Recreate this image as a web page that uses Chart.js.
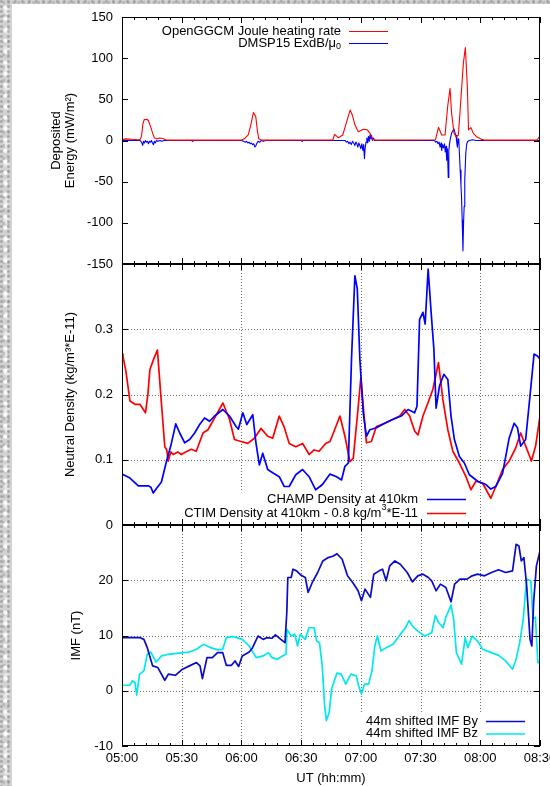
<!DOCTYPE html>
<html>
<head>
<meta charset="utf-8">
<title>Joule heating, neutral density and IMF</title>
<script src="https://cdn.jsdelivr.net/npm/chart.js@4.4.1/dist/chart.umd.min.js"></script>
<style>
  html, body { margin: 0; padding: 0; }
  body {
    width: 550px;
    height: 786px;
    overflow: hidden;
    position: relative;
    background-color: #d2d2d2;
    background-image:
      radial-gradient(circle at 20% 30%, rgba(120,120,120,0.45) 0 1px, rgba(120,120,120,0) 1.8px),
      radial-gradient(circle at 60% 70%, rgba(255,255,255,0.9) 0 1.6px, rgba(255,255,255,0) 2.6px),
      radial-gradient(circle at 80% 20%, rgba(160,160,160,0.5) 0 1.2px, rgba(160,160,160,0) 2.2px),
      radial-gradient(ellipse at 40% 60%, rgba(240,240,240,0.8) 0 2px, rgba(240,240,240,0) 4px);
    background-size: 7px 5px, 9px 11px, 5px 13px, 17px 19px;
  }
  #sheet { position: absolute; left: 12px; top: 4px; right: 0; bottom: 0; background: #fff; }
  canvas { position: absolute; left: 0; }
  #energyChart { top: 0; }
  #densityChart { top: 246px; }
  #imfChart { top: 507px; }
</style>
</head>
<body>
<div id="sheet"></div>
<canvas id="energyChart" width="580" height="281"></canvas>
<canvas id="densityChart" width="580" height="297"></canvas>
<canvas id="imfChart" width="580" height="279"></canvas>

<script>
// Time axis: minutes after 05:00 UT
const timeLabels = ['05:00', '05:30', '06:00', '06:30', '07:00', '07:30', '08:00', '08:30'];
const energyLabels = ['-150', '-100', '-50', '0', '50', '100', '150'];
const densityLabels = ['0', '0.1', '0.2', '0.3', ''];
const imfLabels = ['-10', '0', '10', '20', ''];

// [minute, mW/m^2]
const joule = [
    [0, 1], [2, 2], [5, 1.5], [8, 1], [9, 1], [9.8, 5], [10.5, 20], [11.2, 25.5], [12.5, 25.8], [13.3, 24],
    [14.5, 16], [15.5, 8], [16.3, 3], [17.5, 2], [19, 3], [20.5, 2.5], [22, 1], [24, 0.5],
    [60, 0.5], [61.5, 2], [63.5, 7], [64.8, 20], [66, 34], [67.2, 29], [68, 12], [68.7, 2], [70, 0.5],
    [105.9, 0.6], [106.8, 7.5], [108.7, 3.4], [110.9, 6.7], [112.9, 23], [114.6, 37], [115.7, 31], [117, 19],
    [118.7, 10.7], [121.3, 13.6], [123.2, 13], [124.6, 8.7], [125.9, 1.4], [127.1, 0.5],
    [157.5, 1], [159, 16], [160.6, 6.7], [162.3, 6.7], [163.6, 41], [164.8, 63.4], [165.6, 33], [166.8, 8.7],
    [167.8, 4.6], [169, 6.7], [170.1, 45], [171.5, 94], [172.5, 113], [173.5, 65], [174.1, 12.8], [175.3, 15.6],
    [176.5, 8.7], [178.1, 4.6], [180.6, 1.4], [182, 0.5], [208.5, 0.5], [209.5, 4], [210, 5]
];

const dmsp = [
    [0, 0], [9, 0], [9.5, -1], [10, -3], [10.4, -6], [10.8, -1], [11.3, -3], [11.8, 0], [12.3, -2], [12.8, -1],
    [13.3, -4], [13.8, -1], [14.3, -2], [14.8, 0], [15.3, -3], [15.8, -5], [16.2, -1], [16.7, -3], [17.3, 0],
    [18, -1], [19, 0], [20, -1], [21, 0], [35, 0], [35.5, -1], [36, 0],
    [60, 0], [61, -1], [62, -2], [62.6, -1], [63.2, -3], [63.8, -2], [64.4, -4], [65, -3], [65.6, -5], [66.2, -4],
    [66.8, -8], [67.3, -6], [67.8, -3], [68.4, -1], [69.2, -2], [70, 0], [71, -1], [72, 0], [90, 0], [90.5, -1], [91, 0],
    [112, 0], [112.8, -2], [113.4, -1], [114, -4], [114.6, -2], [115.2, -5], [115.8, -1], [116.4, -3], [117, -6],
    [117.5, -2], [118, -4], [118.5, -8], [119, -3], [119.5, -6], [120, -10], [120.5, -4], [121, -12], [121.4, -5],
    [121.8, -22], [122.2, -8], [122.6, -2], [123, 3], [123.4, -3], [123.8, 5], [124.2, -1], [124.6, 7], [125, 2],
    [125.4, 6], [125.8, 0], [126.3, 3], [126.8, 0], [128, 0],
    [157, 0], [157.6, -2], [158.2, -1], [158.8, -4], [159.3, -2], [159.8, -8], [160.3, -3], [160.6, -12], [161, -5],
    [161.5, -9], [162, -4], [162.4, -14], [162.8, -7], [163.1, -24], [163.5, -10], [163.9, -45], [164.2, -12],
    [164.5, -5], [165, 3], [165.6, 9], [166.2, 12], [166.8, 14], [167.3, 9], [167.8, 6], [168.2, -3], [168.5, -8],
    [168.9, 2], [169.2, 1], [169.6, -20], [169.9, -36], [170.3, -55], [170.6, -70], [170.9, -97], [171.3, -134],
    [171.6, -100], [171.9, -80], [172.2, -48], [172.7, -16], [173.2, -4], [173.7, -1], [174.5, 0], [176, 1],
    [178, 0], [210, 0]
];

// [minute, kg/m^3 * 1e-11]
const champ = [
    [0, 0.078], [4, 0.072], [8.2, 0.06], [13.2, 0.06], [14.5, 0.058], [15.7, 0.049], [17.3, 0.056], [19.8, 0.066],
    [22.3, 0.097], [24.8, 0.125], [27, 0.155], [29, 0.141], [31.5, 0.126], [34, 0.131], [36.5, 0.141], [39, 0.154],
    [41.5, 0.164], [44, 0.159], [46.5, 0.167], [50.7, 0.177], [54, 0.167], [57.3, 0.151], [58.5, 0.147],
    [60.7, 0.172], [62.7, 0.154], [65.7, 0.169], [67.3, 0.126], [69, 0.092], [70.7, 0.11], [73.2, 0.085],
    [75.7, 0.08], [79, 0.074], [81.5, 0.059], [84, 0.059], [87.3, 0.077], [90.7, 0.085], [94, 0.074],
    [97.3, 0.054], [100.7, 0.062], [104.5, 0.078], [107.8, 0.074], [110.3, 0.069], [112, 0.09], [113.7, 0.095],
    [115.3, 0.254], [117, 0.382], [118.2, 0.362], [119.5, 0.254], [121.2, 0.172], [122.8, 0.136], [124.5, 0.146],
    [127.8, 0.149], [132, 0.156], [136.2, 0.162], [140.3, 0.167], [143.7, 0.177], [147, 0.172], [148.2, 0.182],
    [149.5, 0.315], [151.2, 0.326], [152.3, 0.308], [153.8, 0.392], [155.3, 0.326], [156.7, 0.269], [157.8, 0.179],
    [159.5, 0.213], [161.7, 0.231], [163.7, 0.223], [165.3, 0.167], [167, 0.131], [169.5, 0.105], [172, 0.095],
    [174.5, 0.077], [178.7, 0.067], [182.8, 0.062], [185.3, 0.055], [187.8, 0.059], [191.2, 0.079], [194.5, 0.133],
    [197, 0.156], [198.7, 0.149], [200.3, 0.121], [202.8, 0.131], [205.3, 0.208], [207, 0.262], [208.7, 0.259],
    [210, 0.254]
];

const ctim = [
    [0, 0.262], [0.5, 0.258], [2, 0.235], [4, 0.19], [6.5, 0.185], [9, 0.185], [11.8, 0.172], [13, 0.2],
    [14, 0.238], [16, 0.255], [17.8, 0.268], [19.8, 0.187], [21.5, 0.12], [22.5, 0.115], [23.2, 0.098],
    [24.5, 0.112], [25.7, 0.108], [28, 0.112], [29.8, 0.108], [32, 0.112], [34.8, 0.116], [37.3, 0.113],
    [40.7, 0.141], [43.2, 0.146], [46.5, 0.164], [50.7, 0.187], [54, 0.162], [56.5, 0.131], [59.8, 0.128],
    [63.2, 0.125], [66.5, 0.133], [69.8, 0.148], [73.2, 0.136], [75.7, 0.133], [79, 0.167], [81.5, 0.15],
    [84, 0.125], [87.3, 0.12], [90.7, 0.125], [94, 0.108], [96.5, 0.115], [99, 0.113], [102.3, 0.125],
    [104.5, 0.128], [106.2, 0.141], [109.5, 0.167], [112, 0.136], [114.5, 0.097], [116.2, 0.102], [118.7, 0.182],
    [120, 0.226], [121.2, 0.182], [122.8, 0.126], [125.3, 0.128], [127.8, 0.151], [132, 0.156], [136.2, 0.162],
    [139.5, 0.167], [142, 0.177], [144.5, 0.167], [147, 0.144], [148.7, 0.138], [151.2, 0.167], [153.7, 0.187],
    [156.2, 0.208], [159, 0.249], [161.2, 0.192], [163.7, 0.146], [166.2, 0.113], [169.5, 0.095], [172.8, 0.074],
    [175.3, 0.054], [177.8, 0.067], [181.2, 0.064], [185.3, 0.041], [187.8, 0.059], [191.2, 0.085], [194.5, 0.098],
    [197.8, 0.118], [200.3, 0.141], [202.8, 0.121], [205.7, 0.098], [207.8, 0.121], [210, 0.167]
];

// [minute, nT]
const imfBy = [
    [0, 9.6], [9.2, 9.6], [11, 9.3], [12.7, 7.8], [15.4, 4.5], [18, 4.2], [21.5, 1.9], [23.3, 3], [26.8, 2.8],
    [30.4, 3.9], [33.9, 4.5], [37.4, 5.1], [39.2, 4.5], [40.4, 2.2], [42.7, 6], [45.4, 6], [48, 6.9], [50.6, 6.9],
    [52.4, 4.6], [55, 4.6], [56.8, 5.4], [58.6, 4.4], [60.4, 6.3], [63.9, 7], [65.6, 7.8], [68.3, 9.9], [70.9, 9.3],
    [72.7, 9.6], [75.3, 9.5], [77.1, 10.1], [79.8, 9.3], [81.9, 8.7], [82.8, 14.2], [83.3, 20.5], [85, 20.5],
    [85.9, 22], [87.7, 21.7], [90, 20.9], [92.1, 20.5], [93.5, 17.8], [95.6, 19.6], [98.3, 21.4], [100.9, 23.5],
    [103.6, 24.1], [106.2, 24.4], [108, 24.8], [110.6, 23.8], [113.3, 20.8], [115.9, 19.6], [118.6, 18.1],
    [120.3, 16.3], [122.1, 18.4], [124.8, 16.9], [126.5, 21.1], [129.2, 21.7], [130.9, 22], [132.7, 19.9],
    [134.5, 22.6], [137.1, 23.5], [139.8, 22.9], [143.3, 21.4], [145.9, 19.7], [148.6, 20.8], [151.2, 21.1],
    [153.9, 20.5], [155.6, 19.9], [157.8, 18.1], [160, 19.3], [162.7, 18.7], [165.3, 16.1], [167.1, 19.3],
    [169.8, 20.2], [173.3, 20.2], [175.9, 20.8], [178.6, 21.1], [182.1, 20.8], [185.6, 21.4], [189.2, 21.9],
    [192.7, 21.4], [196.2, 21.7], [198, 26.5], [199.4, 26.2], [200.6, 23.5], [201.9, 24.1], [203.3, 19],
    [205, 9.3], [205.9, 8.1], [206.8, 16], [208.2, 22.6], [210, 25.3]
];

const imfBz = [
    [0, 1], [3.9, 1], [5.3, 1.8], [6.5, 1.5], [7.4, -0.8], [8.8, 3], [11, 3.6], [12.7, 6.6], [14.5, 7],
    [17.1, 5.2], [19.8, 6.3], [23.3, 6.6], [28.6, 6.8], [33.9, 7], [37.4, 7.5], [40.9, 8.4], [44.5, 7.8],
    [48, 7.4], [50.6, 7.5], [52.4, 9.6], [55.9, 9.8], [60.4, 9.3], [63.9, 8.1], [67.4, 6], [70.9, 6.3],
    [73.6, 6.9], [75.3, 6], [78, 5.7], [80.6, 6.3], [82.4, 6.6], [82.9, 11.1], [85, 9.9], [86.8, 10.2],
    [88.2, 8.1], [89.5, 10.2], [92.1, 9.3], [93.9, 11.4], [96.5, 11.4], [97.8, 9], [99.2, 8.7], [100.6, 4.5],
    [101.8, -2.7], [102.7, -5.4], [104.1, -3.9], [105.3, 0.3], [108, 3.2], [110.1, 3], [112.4, 1.2], [115, 3],
    [117.7, 2.7], [118.9, 0.9], [120.3, -0.6], [121.8, 1.2], [123.9, 1.2], [125.6, 3.6], [127, 8.1], [128.3, 9.9],
    [130.1, 7.2], [132.7, 7.8], [136.2, 8.4], [139.8, 10.2], [142.4, 11.4], [144.2, 12.7], [145.9, 11.7],
    [148.6, 10.8], [152.1, 9.9], [155.6, 10.5], [157.4, 13.6], [159.2, 12.3], [161.3, 11.4], [162.7, 13.3],
    [165.3, 15.5], [166.6, 13], [168, 6.9], [170.6, 4.8], [172.4, 9.6], [173.8, 7.8], [175.9, 9.9], [178.6, 9],
    [181.2, 7.5], [185.6, 6.9], [189.2, 6.4], [192.7, 5.4], [196.2, 3.9], [198, 5.7], [199.8, 8.7],
    [201.5, 12.7], [203.3, 20.2], [205.4, 19.9], [206.5, 13], [207.7, 13.3], [208.9, 5.1], [210, 5.1]
];

const FONT = '"Liberation Sans", Arial, Helvetica, sans-serif';
Chart.defaults.font.family = FONT;
Chart.defaults.font.size = 13;
Chart.defaults.color = '#000';

function toPoints(series) {
    return series.map(([x, y]) => ({ x, y }));
}

// Draws "a^3" / "b_0" style labels right-aligned, with a one-character super/subscript
function drawRichText(ctx, text, xRight, yMid) {
    const parts = text.split(/([\^_].)/).filter(p => p.length);
    const base = '13px ' + FONT;
    const small = '9px ' + FONT;
    const widths = parts.map(p => {
        ctx.font = /^[\^_]/.test(p) ? small : base;
        return ctx.measureText(/^[\^_]/.test(p) ? p.slice(1) : p).width;
    });
    let x = xRight - widths.reduce((s, w) => s + w, 0);
    ctx.textAlign = 'left';
    ctx.textBaseline = 'middle';
    parts.forEach((p, i) => {
        if (p[0] === '^') {
            ctx.font = small;
            ctx.fillText(p.slice(1), x, yMid - 5);
        } else if (p[0] === '_') {
            ctx.font = small;
            ctx.fillText(p.slice(1), x, yMid + 4);
        } else {
            ctx.font = base;
            ctx.fillText(p, x, yMid);
        }
        x += widths[i];
    });
}

// gnuplot-style frame: dotted grid, inward ticks on all four sides, key with line samples
const framePlugin = {
    id: 'frame',
    beforeDatasetsDraw(chart, args, opts) {
        const { ctx, chartArea: a, scales: { x, y } } = chart;
        ctx.save();
        ctx.strokeStyle = '#6e6e6e';
        ctx.lineWidth = 1;
        ctx.setLineDash([1, 2]);
        ctx.beginPath();
        (opts.xGrid || []).forEach(v => {
            const px = Math.round(x.getPixelForValue(v)) + 0.5;
            ctx.moveTo(px, a.top);
            ctx.lineTo(px, a.bottom);
        });
        (opts.yGrid || []).forEach(v => {
            const py = Math.round(y.getPixelForValue(v)) + 0.5;
            ctx.moveTo(a.left, py);
            ctx.lineTo(a.right, py);
        });
        ctx.stroke();
        ctx.setLineDash([]);
        if (opts.keyBox) {
            const k = opts.keyBox;
            ctx.fillStyle = '#fff';
            ctx.fillRect(k.left, k.top, k.right - k.left, a.bottom - k.top);
        }
        ctx.restore();
    },
    afterDatasetsDraw(chart, args, opts) {
        const { ctx, chartArea: a, scales: { x, y } } = chart;
        ctx.save();
        ctx.strokeStyle = '#000';
        ctx.lineWidth = 1;
        ctx.beginPath();
        // x ticks: major every 30 min, minor every 6 min
        for (let v = x.min; v <= x.max + 1e-6; v += opts.xMinor) {
            const len = Math.abs(v % opts.xMajor) < 1e-6 ? 6 : 3;
            const px = Math.round(x.getPixelForValue(v)) + 0.5;
            ctx.moveTo(px, a.top);
            ctx.lineTo(px, a.top + len);
            ctx.moveTo(px, a.bottom);
            ctx.lineTo(px, a.bottom - len);
        }
        y.ticks.forEach(t => {
            const py = Math.round(y.getPixelForValue(t.value)) + 0.5;
            ctx.moveTo(a.left, py);
            ctx.lineTo(a.left + 6, py);
            ctx.moveTo(a.right, py);
            ctx.lineTo(a.right - 6, py);
        });
        ctx.stroke();
        ctx.strokeRect(a.left + 0.5, a.top + 0.5, a.right - a.left - 1, a.bottom - a.top - 1);

        // key: right-aligned text followed by a line sample
        const key = opts.key;
        if (key) {
            ctx.fillStyle = '#000';
            chart.data.datasets.forEach((ds, i) => {
                const rowY = key.firstRow + i * key.rowStep;
                drawRichText(ctx, ds.label, key.textRight, rowY);
                ctx.strokeStyle = ds.borderColor;
                ctx.lineWidth = ds.borderWidth;
                ctx.beginPath();
                ctx.moveTo(key.lineStart, rowY + 0.5);
                ctx.lineTo(key.lineEnd, rowY + 0.5);
                ctx.stroke();
            });
        }
        ctx.restore();
    }
};

function makePanel(canvasId, panel) {
    const ctx = document.getElementById(canvasId).getContext('2d');
    return new Chart(ctx, {
        type: 'line',
        data: {
            datasets: panel.datasets.map(d => ({
                label: d.label,
                data: toPoints(d.data),
                borderColor: d.color,
                borderWidth: d.width,
                pointRadius: 0,
                tension: 0,
                borderJoinStyle: 'round',
                fill: false
            }))
        },
        options: {
            responsive: false,
            animation: false,
            events: [],
            layout: { padding: { top: panel.padTop, bottom: panel.padBottom, left: 0, right: 40 } },
            plugins: {
                legend: { display: false },
                tooltip: { enabled: false },
                frame: panel.frame
            },
            scales: {
                x: {
                    type: 'linear',
                    min: 0,
                    max: 210,
                    display: panel.showTime,
                    grid: { display: false, drawTicks: false },
                    border: { display: false },
                    ticks: {
                        stepSize: 30,
                        padding: 5,
                        maxRotation: 0,
                        autoSkip: false,
                        callback: (v, i) => timeLabels[i]
                    },
                    title: {
                        display: panel.showTime,
                        text: 'UT (hh:mm)',
                        font: { size: 13, lineHeight: 1.1 },
                        padding: { top: 0, bottom: 0 }
                    },
                    afterFit: scale => { scale.height = panel.showTime ? 40 : 0; }
                },
                y: {
                    type: 'linear',
                    min: panel.yMin,
                    max: panel.yMax,
                    grid: { display: false, drawTicks: false },
                    border: { display: false },
                    ticks: {
                        stepSize: panel.yStep,
                        padding: 9,
                        autoSkip: false,
                        callback: (v, i) => panel.yLabels[i]
                    },
                    title: {
                        display: true,
                        text: panel.yTitle,
                        font: { size: 13, lineHeight: 1.1 },
                        padding: { top: panel.titleOffset, bottom: 0 }
                    },
                    afterFit: scale => { scale.width = 122; }
                }
            }
        },
        plugins: [framePlugin]
    });
}

function initializeFigure() {
    makePanel('energyChart', {
        padTop: 17,
        padBottom: 17,
        showTime: false,
        yMin: -150, yMax: 150, yStep: 50,
        yLabels: energyLabels,
        yTitle: ['Deposited', 'Energy (mW/m²)'],
        titleOffset: 49,
        datasets: [
            { label: 'OpenGGCM Joule heating rate', data: joule, color: '#ff0000', width: 1.1 },
            { label: 'DMSP15 ExdB/μ_0', data: dmsp, color: '#0000ff', width: 1.1 }
        ],
        frame: {
            xMajor: 30, xMinor: 6,
            key: { textRight: 341, firstRow: 31, rowStep: 12, lineStart: 349, lineEnd: 388 }
        }
    });

    makePanel('densityChart', {
        padTop: 18,
        padBottom: 18,
        showTime: false,
        yMin: 0, yMax: 0.4, yStep: 0.1,
        yLabels: densityLabels,
        yTitle: 'Neutral Density (kg/m³*E-11)',
        titleOffset: 63,
        datasets: [
            { label: 'CHAMP Density at 410km', data: champ, color: '#0000ff', width: 1.7 },
            { label: 'CTIM Density at 410km - 0.8 kg/m^3*E-11', data: ctim, color: '#ff0000', width: 1.7 }
        ],
        frame: {
            xMajor: 30, xMinor: 6,
            xGrid: [60, 120, 180],
            yGrid: [0.1, 0.2, 0.3],
            keyBox: { left: 178, top: 245, right: 472 },
            key: { textRight: 418, firstRow: 253, rowStep: 14, lineStart: 427, lineEnd: 466 }
        }
    });

    makePanel('imfChart', {
        padTop: 18,
        padBottom: 0,
        showTime: true,
        yMin: -10, yMax: 30, yStep: 10,
        yLabels: imfLabels,
        yTitle: 'IMF (nT)',
        titleOffset: 69,
        datasets: [
            { label: '44m shifted IMF By', data: imfBy, color: '#0a0ac8', width: 1.7 },
            { label: '44m shifted IMF Bz', data: imfBz, color: '#00e8ee', width: 1.7 }
        ],
        frame: {
            xMajor: 30, xMinor: 6,
            xGrid: [30, 60, 90, 120, 150, 180],
            yGrid: [0, 10, 20],
            keyBox: { left: 358, top: 205, right: 532 },
            key: { textRight: 478, firstRow: 214, rowStep: 12.5, lineStart: 486, lineEnd: 525 }
        }
    });
}

document.addEventListener('DOMContentLoaded', initializeFigure);
</script>
</body>
</html>
